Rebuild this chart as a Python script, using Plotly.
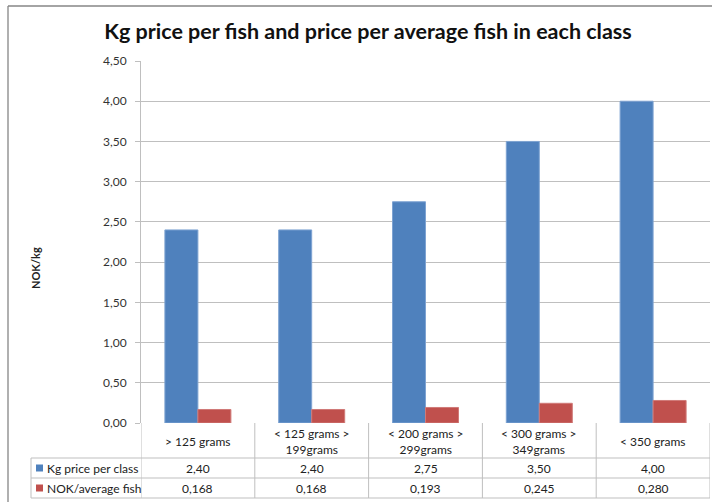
import plotly.graph_objects as go

categories = ["> 125 grams", "< 125 grams ><br>199grams", "< 200 grams ><br>299grams",
              "< 300 grams ><br>349grams", "< 350 grams"]
series_names = ["Kg price per class", "NOK/average fish"]
kg_price = [2.40, 2.40, 2.75, 3.50, 4.00]
nok_avg_fish = [0.168, 0.168, 0.193, 0.245, 0.280]
tick_vals = [0, 0.5, 1.0, 1.5, 2.0, 2.5, 3.0, 3.5, 4.0, 4.5]
tick_text = ["0,00", "0,50", "1,00", "1,50", "2,00", "2,50", "3,00", "3,50", "4,00", "4,50"]

BLUE = "#4F81BD"
RED = "#C0504D"
GRID = "#BFBFBF"
BORDER = "#868686"
FONT = "Lato"

W, H = 712, 502
L, R, T, B = 141, 2, 61, 79
PW = W - L - R
PH = H - T - B


def px_x(xp):
    return (xp - L) / PW


def px_y(yp):
    return (H - B - yp) / PH


xs = list(range(len(categories)))

fig = go.Figure()
fig.add_trace(go.Bar(x=xs, y=kg_price, name=series_names[0], marker_color=BLUE,
                     marker_line=dict(width=1, color="#7EA3D2")))
fig.add_trace(go.Bar(x=xs, y=nok_avg_fish, name=series_names[1], marker_color=RED,
                     marker_line=dict(width=1, color="#D07A78")))

shapes = []
annotations = []

# outer border
shapes.append(dict(type="line", xref="paper", yref="paper", x0=px_x(8), x1=px_x(8),
                   y0=px_y(6), y1=px_y(510), line=dict(color=BORDER, width=1.3)))
shapes.append(dict(type="line", xref="paper", yref="paper", x0=px_x(8), x1=px_x(720),
                   y0=px_y(6), y1=px_y(6), line=dict(color=BORDER, width=1.3)))

# table lines
for yl in [458, 478, 498]:
    shapes.append(dict(type="line", xref="paper", yref="paper", x0=px_x(31), x1=1,
                       y0=px_y(yl), y1=px_y(yl), line=dict(color=GRID, width=1)))
shapes.append(dict(type="line", xref="paper", yref="paper", x0=px_x(31), x1=px_x(31),
                   y0=px_y(458), y1=px_y(498), line=dict(color=GRID, width=1)))
for i in range(len(categories) + 1):
    shapes.append(dict(type="line", xref="x", yref="paper", x0=i - 0.5, x1=i - 0.5,
                       y0=0, y1=px_y(498), line=dict(color=GRID, width=1)))

TXT = dict(family=FONT, size=12, color="#222")

# category labels and values
for i, c in enumerate(categories):
    annotations.append(dict(x=i, y=px_y(441), xref="x", yref="paper", text=c,
                            showarrow=False, font=TXT, align="center",
                            xanchor="center", yanchor="middle"))
    annotations.append(dict(x=i, y=px_y(468), xref="x", yref="paper",
                            text=f"{kg_price[i]:.2f}".replace(".", ","), showarrow=False,
                            font=TXT, xanchor="center", yanchor="middle"))
    annotations.append(dict(x=i, y=px_y(488), xref="x", yref="paper",
                            text=f"{nok_avg_fish[i]:.3f}".replace(".", ","), showarrow=False,
                            font=TXT, xanchor="center", yanchor="middle"))

# legend keys in table
for name, col, yc in [(series_names[0], BLUE, 468), (series_names[1], RED, 488)]:
    shapes.append(dict(type="rect", xref="paper", yref="paper", x0=px_x(36), x1=px_x(43),
                       y0=px_y(yc + 3.5), y1=px_y(yc - 3.5), fillcolor=col, line_width=0))
    annotations.append(dict(x=px_x(45), y=px_y(yc), xref="paper", yref="paper", text=name,
                            showarrow=False, xanchor="left", yanchor="middle", font=TXT))

# y axis title
annotations.append(dict(x=px_x(35), y=px_y(268), xref="paper", yref="paper",
                        text="<b>NOK/kg</b>", showarrow=False, textangle=-90,
                        xanchor="center", yanchor="middle",
                        font=dict(family=FONT, size=11, color="#222")))

fig.update_layout(
    width=W, height=H,
    margin=dict(l=L, r=R, t=T, b=B),
    paper_bgcolor="white", plot_bgcolor="white",
    showlegend=False,
    barmode="group", bargap=0.42, bargroupgap=0,
    title=dict(text="<b>Kg price per fish and price per average fish in each class</b>",
               x=368 / W, xref="container", y=1 - 31 / H, yref="container",
               xanchor="center", yanchor="middle",
               font=dict(family=FONT, size=21.5, color="#111")),
    xaxis=dict(range=[-0.5, len(categories) - 0.5], showticklabels=False, showgrid=False,
               zeroline=False, showline=False, fixedrange=True),
    yaxis=dict(range=[0, 4.5], tickvals=tick_vals, ticktext=tick_text,
               showgrid=True, gridcolor=GRID, gridwidth=1, zeroline=False,
               showline=True, linecolor=GRID, linewidth=1,
               ticks="outside", ticklen=5, tickcolor=GRID, ticklabelstandoff=6,
               tickfont=dict(family=FONT, size=12, color="#333")),
    shapes=shapes,
    annotations=annotations,
)

fig.write_html("out.html", config={"displayModeBar": False},
               post_script="document.body.style.margin='0';")
